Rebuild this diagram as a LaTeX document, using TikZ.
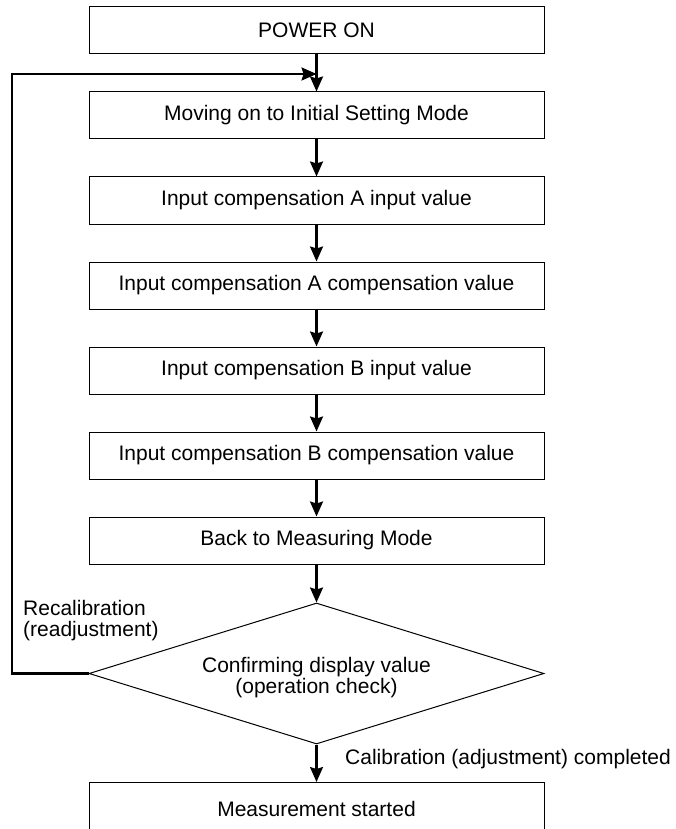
\documentclass[tikz,border=0pt]{standalone}
\usepackage{fontspec}
\setmainfont{Liberation Sans}
\usetikzlibrary{shapes.geometric,arrows.meta}
\begin{document}
\begin{tikzpicture}[x=1pt,y=-1pt,
  box/.style={draw,line width=1pt,minimum width=455pt,minimum height=47pt,inner sep=0pt,font=\fontsize{21}{21}\selectfont},
  dia/.style={draw,diamond,aspect=3.227,line width=1pt,minimum width=455pt,minimum height=141pt,inner sep=0pt},
  arr/.style={line width=2.3pt,-{Stealth[length=15pt,width=13pt,inset=2pt]}},
  lbl/.style={font=\fontsize{21}{21}\selectfont,align=left,inner sep=0pt}]
\clip (0,0) rectangle (675,829);
\node[box] (p) at (316.5,30.5) {POWER ON};
\node[box] (m) at (316.5,115.5) {Moving on to Initial Setting Mode};
\node[box] (ai) at (316.5,200.5) {Input compensation A input value};
\node[box] (ac) at (316.5,285.5) {Input compensation A compensation value};
\node[box] (bi) at (316.5,370.5) {Input compensation B input value};
\node[box] (bc) at (316.5,455.5) {Input compensation B compensation value};
\node[box] (bm) at (316.5,540.5) {Back to Measuring Mode};
\node[dia] (d) at (316.5,673.5) {};
\node[lbl,align=center] (dt) at ([yshift=-4pt]d.center) {Confirming display value\\(operation check)};
\node[box,minimum height=52pt,anchor=north] (f) at (316.5,782) {Measurement started};
\draw[arr] (p) -- (m);
\draw[arr] (m) -- (ai);
\draw[arr] (ai) -- (ac);
\draw[arr] (ac) -- (bi);
\draw[arr] (bi) -- (bc);
\draw[arr] (bc) -- (bm);
\draw[arr] (bm) -- (d);
\draw[arr] (d) -- (f);
\coordinate (lc) at (12,74);
\coordinate (lj) at (316.5,74);
\draw[arr,line join=miter] (d.west) -| (lc) -- (lj);
\node[lbl,anchor=west] (rl) at (23,621) {Recalibration\\(readjustment)};
\node[lbl,anchor=west] (cl) at (345,759) {Calibration (adjustment) completed};
\end{tikzpicture}
\end{document}
